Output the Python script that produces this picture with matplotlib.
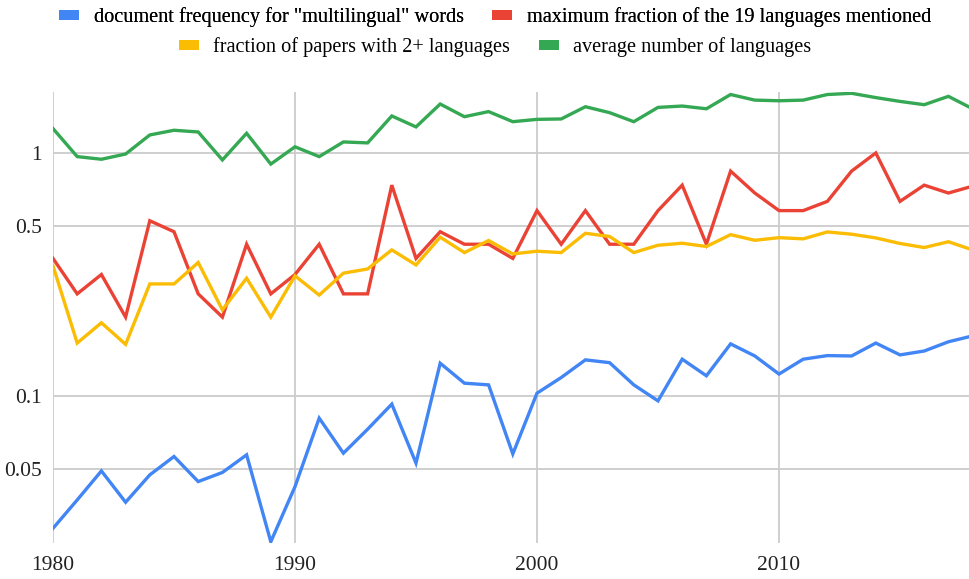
import matplotlib
matplotlib.use("Agg")
import matplotlib.pyplot as plt
from matplotlib.patches import Patch
from matplotlib.ticker import FixedLocator, NullLocator

years = list(range(1980, 2019))

doc_freq = [0.0285, 0.0373, 0.0491, 0.0365, 0.0473, 0.0563, 0.0444, 0.0484, 0.0572, 0.0251,
            0.0423, 0.081, 0.0581, 0.0729, 0.0925, 0.0529, 0.1363, 0.1128, 0.111, 0.0577,
            0.1026, 0.119, 0.1407, 0.137, 0.111, 0.0954, 0.1416, 0.121, 0.1637, 0.146,
            0.123, 0.1416, 0.1465, 0.146, 0.165, 0.1475, 0.153, 0.167, 0.1766]

max_fraction = [0.368, 0.263, 0.316, 0.211, 0.526, 0.474, 0.263, 0.211, 0.421, 0.263,
                0.316, 0.421, 0.263, 0.263, 0.737, 0.368, 0.474, 0.421, 0.421, 0.368,
                0.579, 0.421, 0.579, 0.421, 0.421, 0.579, 0.737, 0.421, 0.842, 0.684,
                0.579, 0.579, 0.632, 0.842, 1.0, 0.632, 0.737, 0.684, 0.73]

frac_multi = [0.343, 0.165, 0.2, 0.163, 0.289, 0.289, 0.354, 0.226, 0.305, 0.211,
              0.312, 0.26, 0.32, 0.333, 0.399, 0.346, 0.45, 0.389, 0.436, 0.384,
              0.394, 0.389, 0.467, 0.453, 0.389, 0.417, 0.425, 0.412, 0.461, 0.437,
              0.448, 0.443, 0.473, 0.463, 0.447, 0.424, 0.408, 0.431, 0.399]

avg_langs = [1.26, 0.966, 0.942, 0.99, 1.186, 1.24, 1.22, 0.936, 1.205, 0.90,
             1.06, 0.966, 1.11, 1.10, 1.42, 1.28, 1.59, 1.41, 1.48, 1.345,
             1.375, 1.38, 1.55, 1.465, 1.345, 1.54, 1.56, 1.52, 1.74, 1.65,
             1.64, 1.65, 1.74, 1.76, 1.69, 1.63, 1.58, 1.71, 1.52]

labels = ['document frequency for "multilingual" words',
          'maximum fraction of the 19 languages mentioned',
          'fraction of papers with 2+ languages',
          'average number of languages']
colors = ["#4285F4", "#EA4335", "#FBBC04", "#34A853"]

y_ticks = [0.05, 0.1, 0.5, 1]
y_ticklabels = ["0.05", "0.1", "0.5", "1"]
x_ticks = [1980, 1990, 2000, 2010]

plt.rcParams["font.family"] = ["Liberation Serif", "DejaVu Serif"]

W, H = 969, 579
fig = plt.figure(figsize=(W / 100, H / 100), dpi=100)
ax = fig.add_axes([53 / W, 36 / H, 919.6 / W, 451 / H])

for vals, col, lab in zip([doc_freq, max_fraction, frac_multi, avg_langs], colors, labels):
    ax.plot(years, vals, color=col, lw=2.4, label=lab, solid_joinstyle="miter", zorder=3)

ax.set_yscale("log")
ax.set_xlim(1980, 2018)
ax.set_ylim(0.0248, 1.782)
ax.yaxis.set_major_locator(FixedLocator(y_ticks))
ax.yaxis.set_minor_locator(NullLocator())
ax.set_yticklabels(y_ticklabels)
ax.set_xticks(x_ticks)
ax.set_xticklabels([str(t) for t in x_ticks])
ax.tick_params(axis="both", length=0, labelsize=15.5, colors="#222222")
ax.tick_params(axis="y", pad=8)
ax.tick_params(axis="x", pad=9)
ax.grid(True, color="#cccccc", lw=1.3)
for s in ax.spines.values():
    s.set_visible(False)

# legend in two centred rows
handles = [Patch(facecolor=c, edgecolor="none") for c in colors]
leg_kw = dict(frameon=False, fontsize=14.6, ncol=2, handlelength=1.0, handleheight=0.4,
              handletextpad=0.7, columnspacing=1.4, loc="center")
leg1 = fig.legend(handles[:2], labels[:2], bbox_to_anchor=(495 / W, 1 - 17 / H), **leg_kw)
fig.add_artist(leg1)
fig.legend(handles[2:], labels[2:], bbox_to_anchor=(495 / W, 1 - 47 / H), **leg_kw)

fig.savefig("out.png", dpi=100)
